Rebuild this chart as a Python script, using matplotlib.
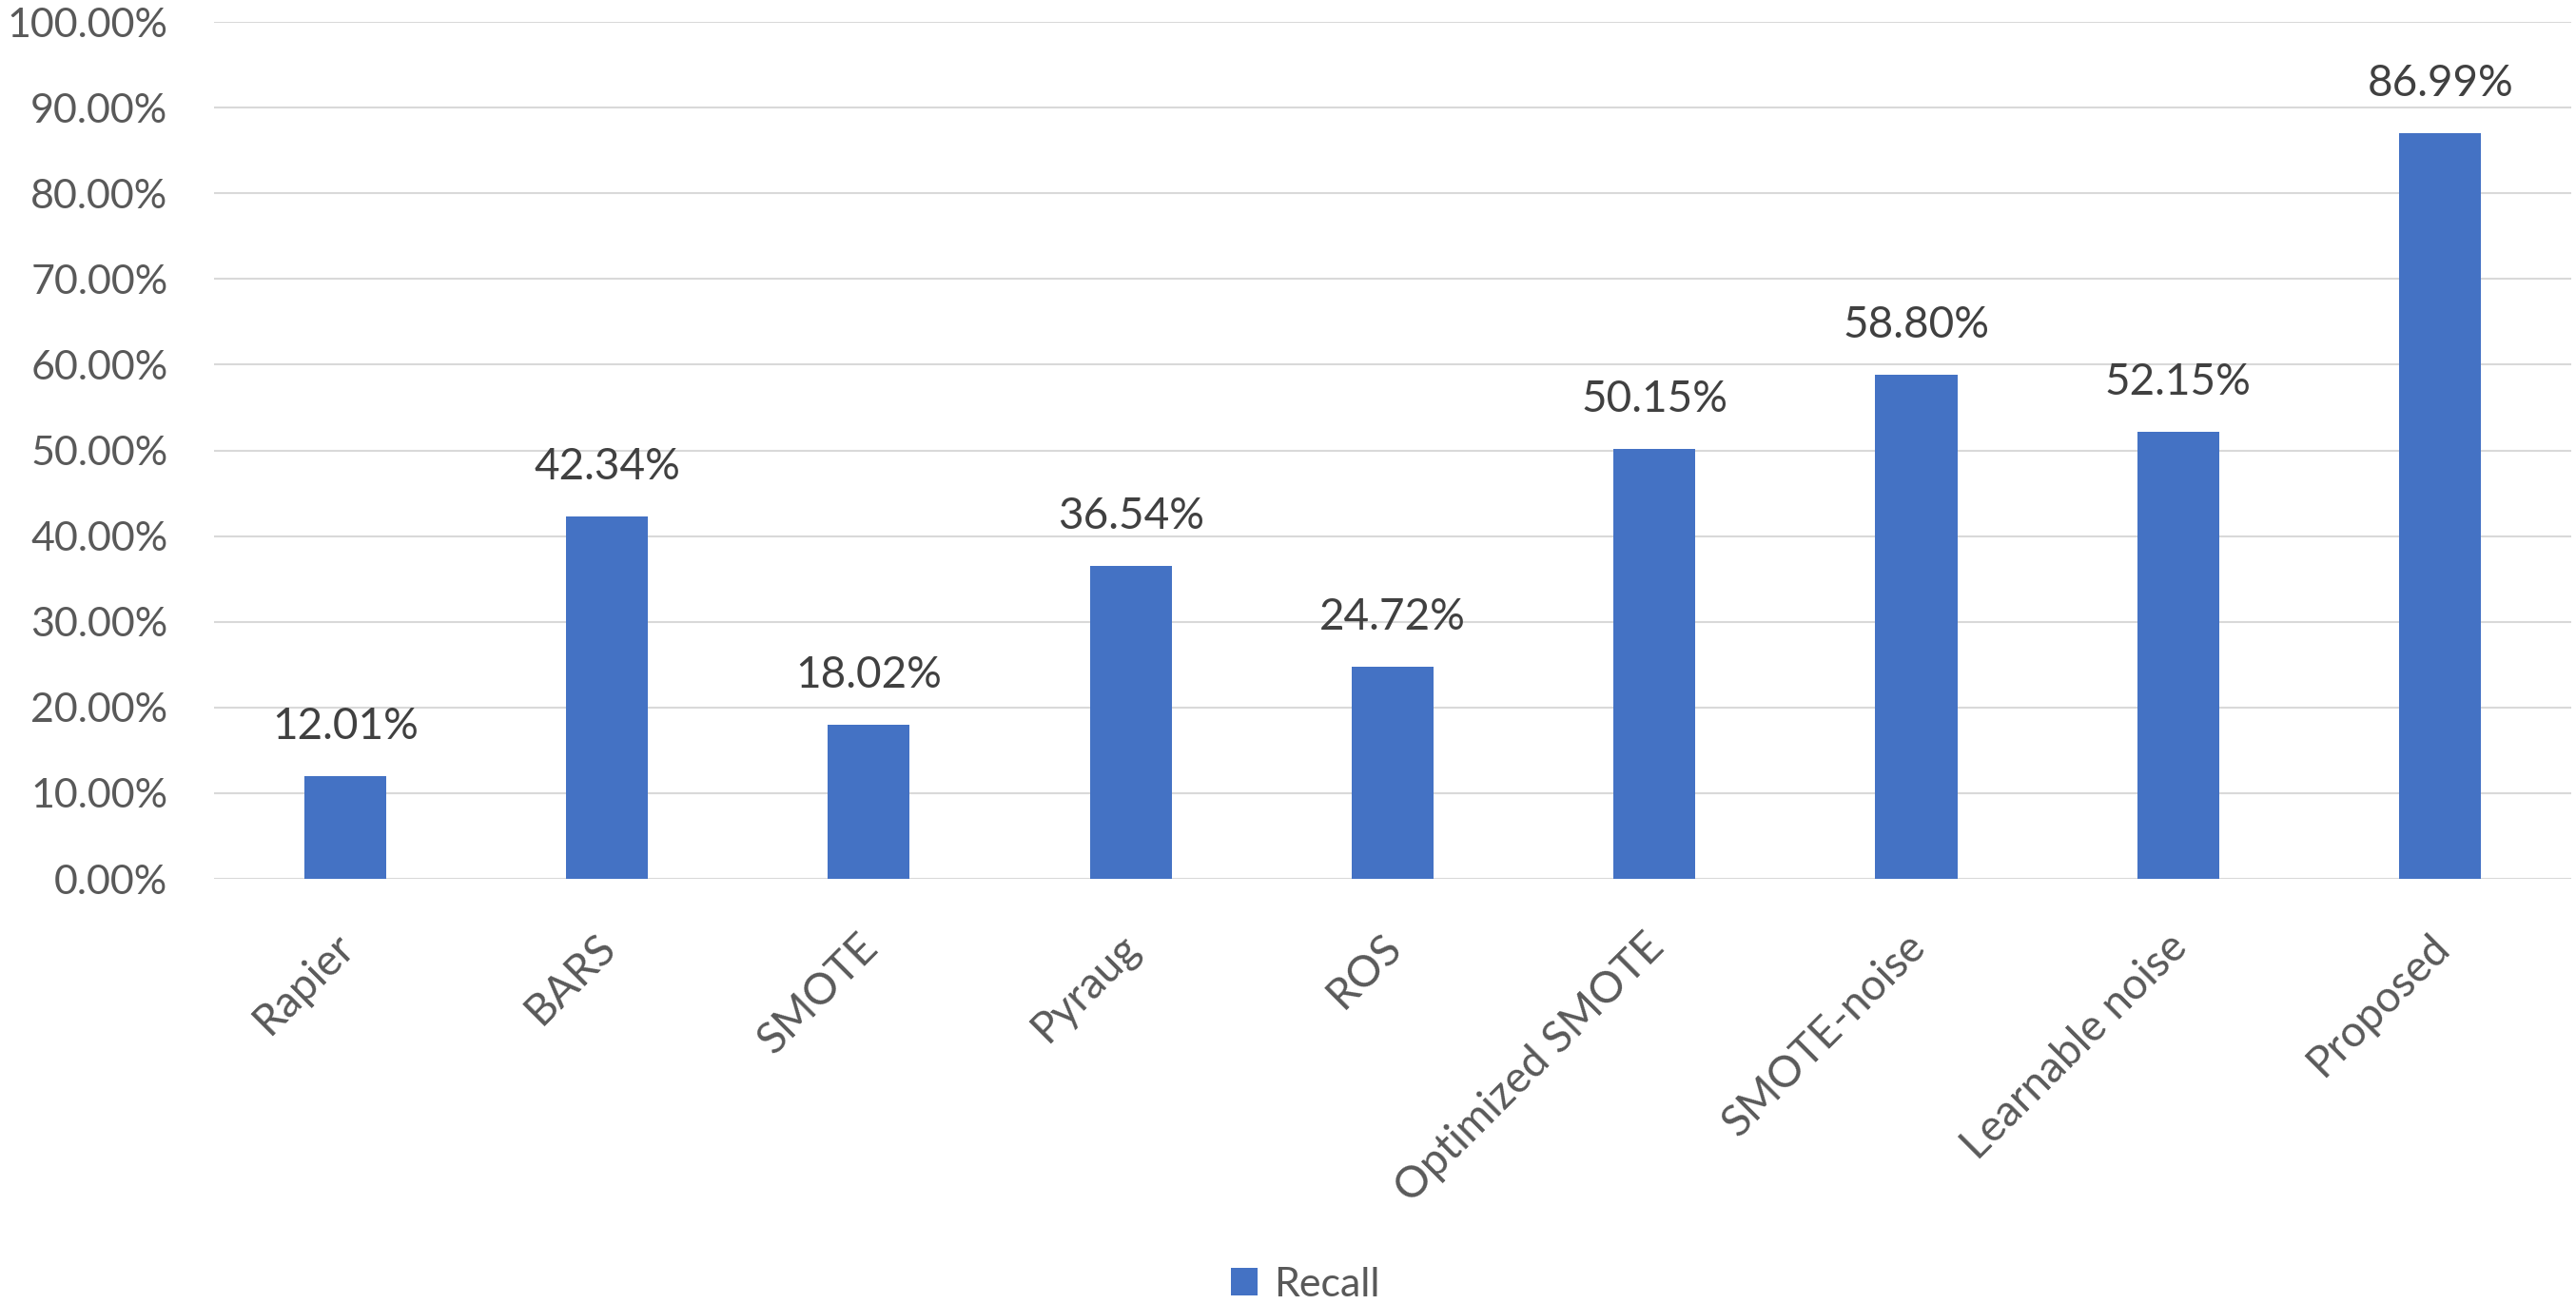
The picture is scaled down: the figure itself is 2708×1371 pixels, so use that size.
import matplotlib
matplotlib.use("Agg")
import matplotlib.pyplot as plt
from matplotlib.ticker import FuncFormatter, MultipleLocator
from matplotlib.transforms import ScaledTranslation

methods = ["Rapier", "BARS", "SMOTE", "Pyraug", "ROS", "Optimized SMOTE",
           "SMOTE-noise", "Learnable noise", "Proposed"]
recall = [12.01, 42.34, 18.02, 36.54, 24.72, 50.15, 58.80, 52.15, 86.99]

BAR = "#4472C4"
GRID = "#D9D9D9"
TICK = "#595959"

plt.rcParams.update({
    "font.family": ["Lato", "DejaVu Sans"],
    "font.size": 31,
})

fig = plt.figure(figsize=(27.08, 13.71), dpi=100)
ax = fig.add_axes([0.0831, 0.326, 0.915, 0.6572])

x = range(len(methods))
bars = ax.bar(x, recall, width=0.313, color=BAR, label="Recall", zorder=3)

for xi, v in zip(x, recall):
    ax.annotate(f"{v:.2f}%", (xi, v), xytext=(0, 28), textcoords="offset points",
                ha="center", va="baseline", color="#404040", fontsize=33)

ax.set_xlim(-0.5, len(methods) - 0.5)
ax.set_ylim(0, 100)
ax.yaxis.set_major_locator(MultipleLocator(10))
ax.yaxis.set_major_formatter(FuncFormatter(lambda v, _: f"{v:.2f}%"))
ax.grid(axis="y", color=GRID, linewidth=1.5, zorder=0)
ax.set_axisbelow(True)
for s in ax.spines.values():
    s.set_visible(False)

ax.set_xticks(list(x))
ax.set_xticklabels(methods, rotation=45, ha="right", va="top",
                   rotation_mode="anchor", color=TICK, fontsize=33)
ax.tick_params(axis="x", length=0, pad=36)
ax.tick_params(axis="y", length=0, pad=35, colors=TICK)
# nudge rotated labels a little left, like the Excel original
shift = ScaledTranslation(-12 / 100, 0, fig.dpi_scale_trans)
for lbl in ax.get_xticklabels():
    lbl.set_transform(lbl.get_transform() + shift)

fig.legend(handles=[bars], labels=["Recall"], loc="center",
           bbox_to_anchor=(0.5067, 0.0146), frameon=False,
           handlelength=0.65, handleheight=0.65, handletextpad=0.4,
           borderpad=0, labelcolor=TICK)

fig.savefig("out.png", dpi=100)
